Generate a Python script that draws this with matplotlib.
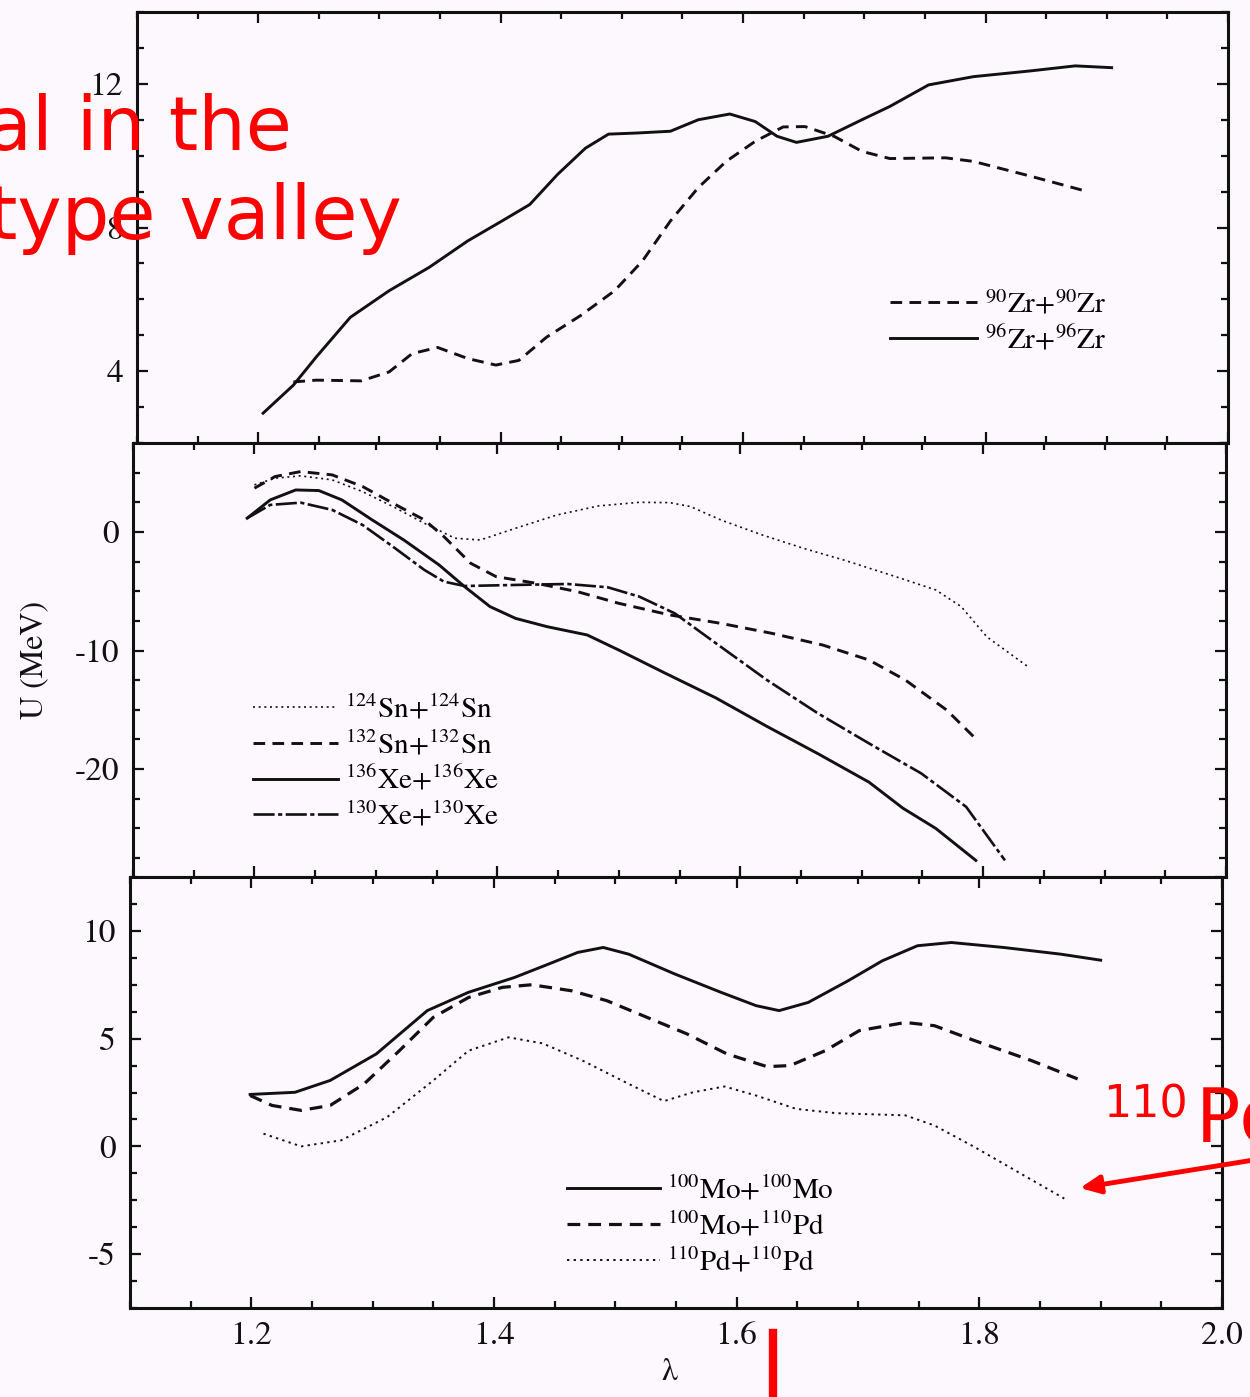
import matplotlib
matplotlib.use("Agg")
import matplotlib.pyplot as plt
from matplotlib.ticker import MultipleLocator
from matplotlib.lines import Line2D

# ---------------- data ----------------
# top panel
lam_zr96 = [1.204, 1.229, 1.248, 1.276, 1.308, 1.341, 1.373, 1.401, 1.424, 1.447, 1.470, 1.489,
            1.512, 1.540, 1.563, 1.589, 1.610, 1.628, 1.644, 1.670, 1.698, 1.721, 1.753, 1.790,
            1.837, 1.874, 1.904]
u_zr96 = [2.83, 3.61, 4.40, 5.50, 6.24, 6.89, 7.63, 8.18, 8.64, 9.48, 10.21, 10.60,
          10.63, 10.68, 11.00, 11.16, 10.95, 10.54, 10.37, 10.54, 11.00, 11.37, 11.97, 12.20,
          12.36, 12.50, 12.45]
lam_zr90 = [1.229, 1.248, 1.285, 1.308, 1.327, 1.348, 1.373, 1.396, 1.415, 1.438, 1.466, 1.494,
            1.517, 1.540, 1.563, 1.586, 1.610, 1.633, 1.651, 1.675, 1.698, 1.721, 1.767, 1.790,
            1.837, 1.883]
u_zr90 = [3.70, 3.75, 3.73, 3.98, 4.49, 4.66, 4.35, 4.17, 4.30, 4.95, 5.55, 6.24,
          7.07, 8.18, 9.11, 9.84, 10.40, 10.80, 10.81, 10.54, 10.12, 9.92, 9.94, 9.84,
          9.43, 9.01]

# middle panel
lam_sn124 = [1.200, 1.217, 1.238, 1.264, 1.289, 1.314, 1.340, 1.365, 1.386, 1.415, 1.449, 1.483,
             1.517, 1.542, 1.559, 1.584, 1.618, 1.652, 1.685, 1.728, 1.761, 1.782, 1.803, 1.837]
u_sn124 = [3.97, 4.53, 4.73, 4.39, 3.40, 2.14, 0.73, -0.53, -0.68, 0.31, 1.43, 2.19,
           2.50, 2.47, 2.14, 1.01, -0.25, -1.38, -2.36, -3.77, -4.89, -6.30, -8.84, -11.37]
lam_sn132 = [1.200, 1.217, 1.238, 1.264, 1.289, 1.314, 1.340, 1.356, 1.378, 1.399, 1.432, 1.466,
             1.500, 1.542, 1.584, 1.626, 1.668, 1.706, 1.736, 1.770, 1.795]
u_sn132 = [3.69, 4.67, 5.09, 4.81, 3.83, 2.42, 1.01, -0.39, -2.64, -3.77, -4.33, -5.04,
           -6.02, -7.00, -7.71, -8.55, -9.54, -10.80, -12.49, -15.02, -17.55]
lam_xe136 = [1.194, 1.213, 1.234, 1.253, 1.272, 1.297, 1.323, 1.352, 1.373, 1.394, 1.415, 1.441,
             1.474, 1.500, 1.538, 1.580, 1.622, 1.664, 1.706, 1.734, 1.761, 1.794]
u_xe136 = [1.16, 2.70, 3.54, 3.49, 2.70, 1.01, -0.68, -2.78, -4.61, -6.30, -7.29, -7.99,
           -8.69, -9.96, -11.90, -14.00, -16.40, -18.70, -21.10, -23.30, -25.00, -27.70]
lam_xe130 = [1.194, 1.213, 1.238, 1.264, 1.289, 1.314, 1.340, 1.356, 1.373, 1.415, 1.458, 1.491,
             1.517, 1.546, 1.580, 1.622, 1.664, 1.706, 1.749, 1.786, 1.818]
u_xe130 = [1.16, 2.28, 2.47, 1.86, 0.59, -1.24, -3.21, -4.19, -4.56, -4.47, -4.39, -4.67,
           -5.46, -6.86, -9.39, -12.49, -15.30, -17.83, -20.36, -23.18, -27.70]

# bottom panel
lam_momo = [1.199, 1.236, 1.265, 1.303, 1.345, 1.379, 1.417, 1.445, 1.469, 1.490, 1.511, 1.549,
            1.587, 1.616, 1.635, 1.659, 1.692, 1.720, 1.749, 1.777, 1.820, 1.867, 1.900]
u_momo = [2.41, 2.51, 3.06, 4.29, 6.30, 7.15, 7.84, 8.46, 9.00, 9.23, 8.92, 8.00,
          7.15, 6.53, 6.30, 6.68, 7.69, 8.61, 9.31, 9.46, 9.23, 8.92, 8.64]
lam_mopd = [1.199, 1.217, 1.241, 1.265, 1.293, 1.322, 1.350, 1.379, 1.407, 1.431, 1.464, 1.493,
            1.526, 1.559, 1.592, 1.625, 1.644, 1.673, 1.701, 1.739, 1.763, 1.796, 1.843, 1.881]
u_mopd = [2.36, 1.90, 1.67, 1.90, 2.90, 4.44, 5.99, 6.91, 7.38, 7.50, 7.22, 6.76,
          5.99, 5.22, 4.29, 3.70, 3.75, 4.44, 5.37, 5.75, 5.60, 4.91, 3.98, 3.13]
lam_pdpd = [1.210, 1.241, 1.274, 1.312, 1.350, 1.379, 1.412, 1.440, 1.473, 1.511, 1.540, 1.564,
            1.590, 1.616, 1.649, 1.682, 1.739, 1.763, 1.796, 1.834, 1.870]
u_pdpd = [0.59, 0.00, 0.28, 1.36, 3.06, 4.44, 5.06, 4.78, 3.98, 2.90, 2.10, 2.51,
          2.78, 2.36, 1.74, 1.54, 1.44, 0.97, -0.03, -1.26, -2.42]

labels_top = [r'$^{90}$Zr+$^{90}$Zr', r'$^{96}$Zr+$^{96}$Zr']
labels_mid = [r'$^{124}$Sn+$^{124}$Sn', r'$^{132}$Sn+$^{132}$Sn',
              r'$^{136}$Xe+$^{136}$Xe', r'$^{130}$Xe+$^{130}$Xe']
labels_bot = [r'$^{100}$Mo+$^{100}$Mo', r'$^{100}$Mo+$^{110}$Pd', r'$^{110}$Pd+$^{110}$Pd']

xticks = [1.2, 1.4, 1.6, 1.8, 2.0]
xticklabels = ['1.2', '1.4', '1.6', '1.8', '2.0']

# ---------------- style ----------------
plt.rcParams['font.family'] = ['STIXGeneral', 'DejaVu Serif']
plt.rcParams['mathtext.fontset'] = 'stix'
plt.rcParams['axes.unicode_minus'] = False

BG = '#fdf8fd'
INK = '#111111'
W, H = 1250, 1397
fig = plt.figure(figsize=(W / 100, H / 100), dpi=100, facecolor=BG)


def rect(l, r, t, b):
    return [l / W, 1 - b / H, (r - l) / W, (b - t) / H]


ax1 = fig.add_axes(rect(137, 1228, 12, 443))
ax2 = fig.add_axes(rect(133, 1226, 443, 877))
ax3 = fig.add_axes(rect(130, 1222, 877, 1308))

for ax in (ax1, ax2, ax3):
    ax.set_facecolor(BG)
    ax.set_xlim(1.1, 2.0)
    ax.set_xticks(xticks)
    ax.xaxis.set_minor_locator(MultipleLocator(0.05))
    ax.tick_params(which='both', direction='in', top=True, right=True,
                   colors=INK, width=1.6, labelsize=24, pad=10)
    ax.tick_params(which='major', length=8)
    ax.tick_params(which='minor', length=5)
    for s in ax.spines.values():
        s.set_linewidth(2.2)
        s.set_color(INK)

ax1.tick_params(labelbottom=False)
ax2.tick_params(labelbottom=False)
ax3.set_xticklabels(xticklabels)

leg_kw = dict(loc='upper left', frameon=False, fontsize=21, handletextpad=0.25,
              labelspacing=0.22, borderpad=0, borderaxespad=0)

# top
ax1.set_ylim(2, 14)
ax1.yaxis.set_major_locator(MultipleLocator(4))
ax1.yaxis.set_minor_locator(MultipleLocator(1))
ax1.plot(lam_zr90, u_zr90, color=INK, lw=2.1, dashes=(4, 2.5), label=labels_top[0])
ax1.plot(lam_zr96, u_zr96, color=INK, lw=2.1, label=labels_top[1])
ax1.legend(bbox_to_anchor=(0.690, 0.356), handlelength=3.0, **leg_kw)

# middle
ax2.set_ylim(-29.1, 7.5)
ax2.yaxis.set_major_locator(MultipleLocator(10))
ax2.yaxis.set_minor_locator(MultipleLocator(2.5))
ax2.plot(lam_sn124, u_sn124, color=INK, lw=1.2, dashes=(1.2, 2.2), label=labels_mid[0])
ax2.plot(lam_sn132, u_sn132, color=INK, lw=2.1, dashes=(4, 2.5), label=labels_mid[1])
ax2.plot(lam_xe136, u_xe136, color=INK, lw=2.1, label=labels_mid[2])
ax2.plot(lam_xe130, u_xe130, color=INK, lw=1.9, dashes=(8, 1.3, 1.6, 1.3), label=labels_mid[3])
ax2.legend(bbox_to_anchor=(0.110, 0.422), handlelength=2.9, **leg_kw)

# bottom
ax3.set_ylim(-7.5, 12.5)
ax3.yaxis.set_major_locator(MultipleLocator(5))
ax3.yaxis.set_minor_locator(MultipleLocator(1.25))
ax3.plot(lam_momo, u_momo, color=INK, lw=2.1, label=labels_bot[0])
ax3.plot(lam_mopd, u_mopd, color=INK, lw=2.3, dashes=(4, 2.5), label=labels_bot[1])
ax3.plot(lam_pdpd, u_pdpd, color=INK, lw=1.4, dashes=(1.2, 2.2), label=labels_bot[2])
ax3.legend(bbox_to_anchor=(0.400, 0.308), handlelength=3.2, **leg_kw)

# axis labels
fig.text(35 / W, 1 - 660 / H, 'U (MeV)', rotation=90, ha='center', va='center',
         fontsize=23, color=INK)
fig.text(670 / W, 1 - 1372 / H, 'λ', ha='center', va='center', fontsize=23, color=INK)

# red overlay annotations
red = '#ff0000'
fig.text(292 / W, 1 - 150 / H, 'al in the', ha='right', va='baseline', color=red,
         fontsize=54, family='DejaVu Sans')
fig.text(402 / W, 1 - 239 / H, 'type valley', ha='right', va='baseline', color=red,
         fontsize=54, family='DejaVu Sans')
fig.text(1103 / W, 1 - 1118 / H, '110', ha='left', va='baseline', color=red,
         fontsize=32, family='DejaVu Sans')
fig.text(1196 / W, 1 - 1142 / H, 'Pd', ha='left', va='baseline', color=red,
         fontsize=53, family='DejaVu Sans')
ax3.annotate('', xy=(1080, H - 1188), xytext=(1260, H - 1159),
             xycoords='figure pixels', textcoords='figure pixels', annotation_clip=False,
             arrowprops=dict(arrowstyle='-|>,head_length=1.2,head_width=0.55',
                             color=red, lw=3.5, shrinkA=0, shrinkB=0))
fig.add_artist(Line2D([773 / W, 773 / W], [0, 1 - 1333 / H], color=red, lw=6))

fig.savefig('out.png', dpi=100, facecolor=BG)
